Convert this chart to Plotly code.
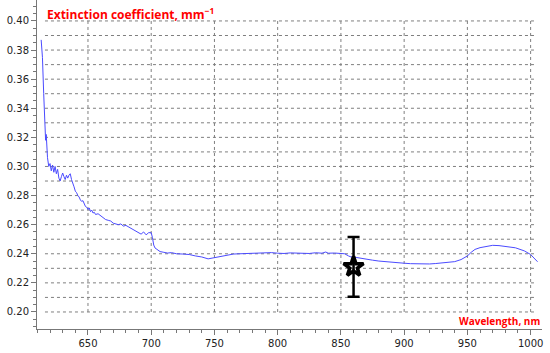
import plotly.graph_objects as go

# spectrum
wavelength_nm = [
    613, 614, 615, 616, 616.5, 617, 617.5, 618, 619, 620, 621, 622, 623, 624, 625, 626,
    627, 628, 629, 630, 631, 632, 633, 634, 635, 636, 637, 638, 639, 640, 641, 642,
    643, 644, 645, 646, 647, 648, 649, 650, 651, 652, 653, 654, 655, 656, 658, 660,
    662, 664, 666, 668, 670, 672, 674, 676, 678, 680, 682, 684, 686, 688, 690, 692,
    694, 696, 698, 700, 701, 702, 703, 705, 707, 710, 713, 716, 720, 725, 730, 735,
    740, 745, 748, 752, 756, 760, 765, 770, 775, 780, 785, 790, 795, 800, 805, 810,
    815, 820, 825, 830, 835, 838, 840, 845, 850, 853, 856, 858, 862, 866, 870, 875,
    880, 885, 890, 895, 900, 905, 910, 915, 920, 925, 930, 935, 940, 945, 950, 953,
    956, 960, 965, 970, 975, 980, 985, 988, 990, 995, 1000, 1003, 1005.5,
]
extinction = [
    0.387, 0.375, 0.350, 0.330, 0.318, 0.322, 0.312, 0.306, 0.300, 0.302, 0.297, 0.301, 0.296, 0.300, 0.295, 0.298,
    0.292, 0.290, 0.293, 0.2955, 0.293, 0.291, 0.294, 0.292, 0.294, 0.295, 0.291, 0.289, 0.286, 0.283, 0.282, 0.280,
    0.279, 0.277, 0.276, 0.2765, 0.274, 0.2725, 0.272, 0.2705, 0.2715, 0.269, 0.270, 0.268, 0.2685, 0.267, 0.2675, 0.266,
    0.2645, 0.2635, 0.263, 0.2625, 0.261, 0.2605, 0.2600, 0.2605, 0.259, 0.2595, 0.2585, 0.257, 0.2565, 0.2555, 0.2545, 0.2535,
    0.255, 0.253, 0.2545, 0.2545, 0.251, 0.246, 0.244, 0.2425, 0.2415, 0.241, 0.2405, 0.2408, 0.2400, 0.2398, 0.2395, 0.2385,
    0.2378, 0.2365, 0.2370, 0.2380, 0.2385, 0.2392, 0.2398, 0.2400, 0.2402, 0.2400, 0.2405, 0.2403, 0.2408, 0.2404, 0.2402, 0.2406,
    0.2403, 0.2405, 0.2402, 0.2407, 0.2404, 0.2412, 0.2404, 0.2405, 0.2403, 0.2400, 0.2385, 0.2378, 0.2375, 0.2368, 0.2360, 0.2356,
    0.2350, 0.2345, 0.2340, 0.2337, 0.2335, 0.2332, 0.2330, 0.2328, 0.2330, 0.2333, 0.2336, 0.2340, 0.2346, 0.2360, 0.2385, 0.2410,
    0.2430, 0.2442, 0.2452, 0.2458, 0.2456, 0.2452, 0.2445, 0.2441, 0.2435, 0.2420, 0.2395, 0.2370, 0.2345,
]

# single measured point with error bar
point_nm = [860]
point_value = [0.231]
point_err = [0.0205]

x_grid = [650, 700, 750, 800, 850, 900, 950, 1000]
y_grid = [0.20, 0.21, 0.22, 0.23, 0.24, 0.25, 0.26, 0.27, 0.28, 0.29, 0.30,
          0.31, 0.32, 0.33, 0.34, 0.35, 0.36, 0.37, 0.38, 0.39, 0.40]
y_ticks = [0.20, 0.22, 0.24, 0.26, 0.28, 0.30, 0.32, 0.34, 0.36, 0.38, 0.40]
y_labels = ["%.2f" % v for v in y_ticks]

fig = go.Figure()

# dotted grid box (only spans the data area, like the original)
grid_style = dict(color="#7f7f7f", width=1, dash="dot")
for xv in x_grid:
    fig.add_shape(type="line", x0=xv, x1=xv, y0=0.20, y1=0.40,
                  line=grid_style, layer="below")
for yv in y_grid:
    fig.add_shape(type="line", x0=616, x1=1005, y0=yv, y1=yv,
                  line=grid_style, layer="below")

fig.add_trace(go.Scatter(x=wavelength_nm, y=extinction, mode="lines",
                         line=dict(color="#4b4bff", width=1), showlegend=False))

fig.add_trace(go.Scatter(x=point_nm, y=point_value, mode="markers",
                         marker=dict(symbol="star-open", size=15, color="black",
                                     line=dict(color="black", width=3.5)),
                         error_y=dict(type="data", array=point_err, color="black",
                                      thickness=2.5, width=6),
                         showlegend=False))

fig.add_annotation(text="Extinction coefficient, mm<sup>\u22121</sup>",
                   xref="paper", yref="paper", x=0.016, y=0.958,
                   xanchor="left", yanchor="middle", showarrow=False,
                   font=dict(family="Open Sans", size=12, color="#ff0000", weight="bold"))
fig.add_annotation(text="Wavelength, nm",
                   xref="paper", yref="paper", x=1.0, y=0.024,
                   xanchor="right", yanchor="middle", showarrow=False,
                   font=dict(family="Open Sans", size=10, color="#ff0000", weight="bold"))

axis_font = dict(family="DejaVu Sans", size=10, color="#222222")
fig.update_xaxes(range=[609.7, 1009], showgrid=False, zeroline=False, automargin=False,
                 showline=True, linecolor="#777777", linewidth=1,
                 ticks="outside", ticklen=5, tickcolor="#777777",
                 tickvals=x_grid, tickfont=axis_font,
                 minor=dict(dtick=10, ticks="outside", ticklen=3, tickcolor="#777777", showgrid=False))
fig.update_yaxes(range=[0.1883, 0.4144], showgrid=False, zeroline=False, automargin=False,
                 showline=True, linecolor="#777777", linewidth=1,
                 ticks="outside", ticklen=5, tickcolor="#777777",
                 tickvals=y_ticks, ticktext=y_labels, tickfont=axis_font,
                 minor=dict(dtick=0.005, tick0=0.20, ticks="outside", ticklen=3,
                            tickcolor="#777777", showgrid=False))

fig.update_layout(width=550, height=353, template="plotly_white",
                  plot_bgcolor="white", paper_bgcolor="white",
                  margin=dict(l=37, r=8, t=0, b=24, autoexpand=False))

# the page body has a default 8px margin; drop it so the chart sits at 0,0
fig.write_html("out.html", config={"displayModeBar": False},
               post_script="document.body.style.margin='0';")
